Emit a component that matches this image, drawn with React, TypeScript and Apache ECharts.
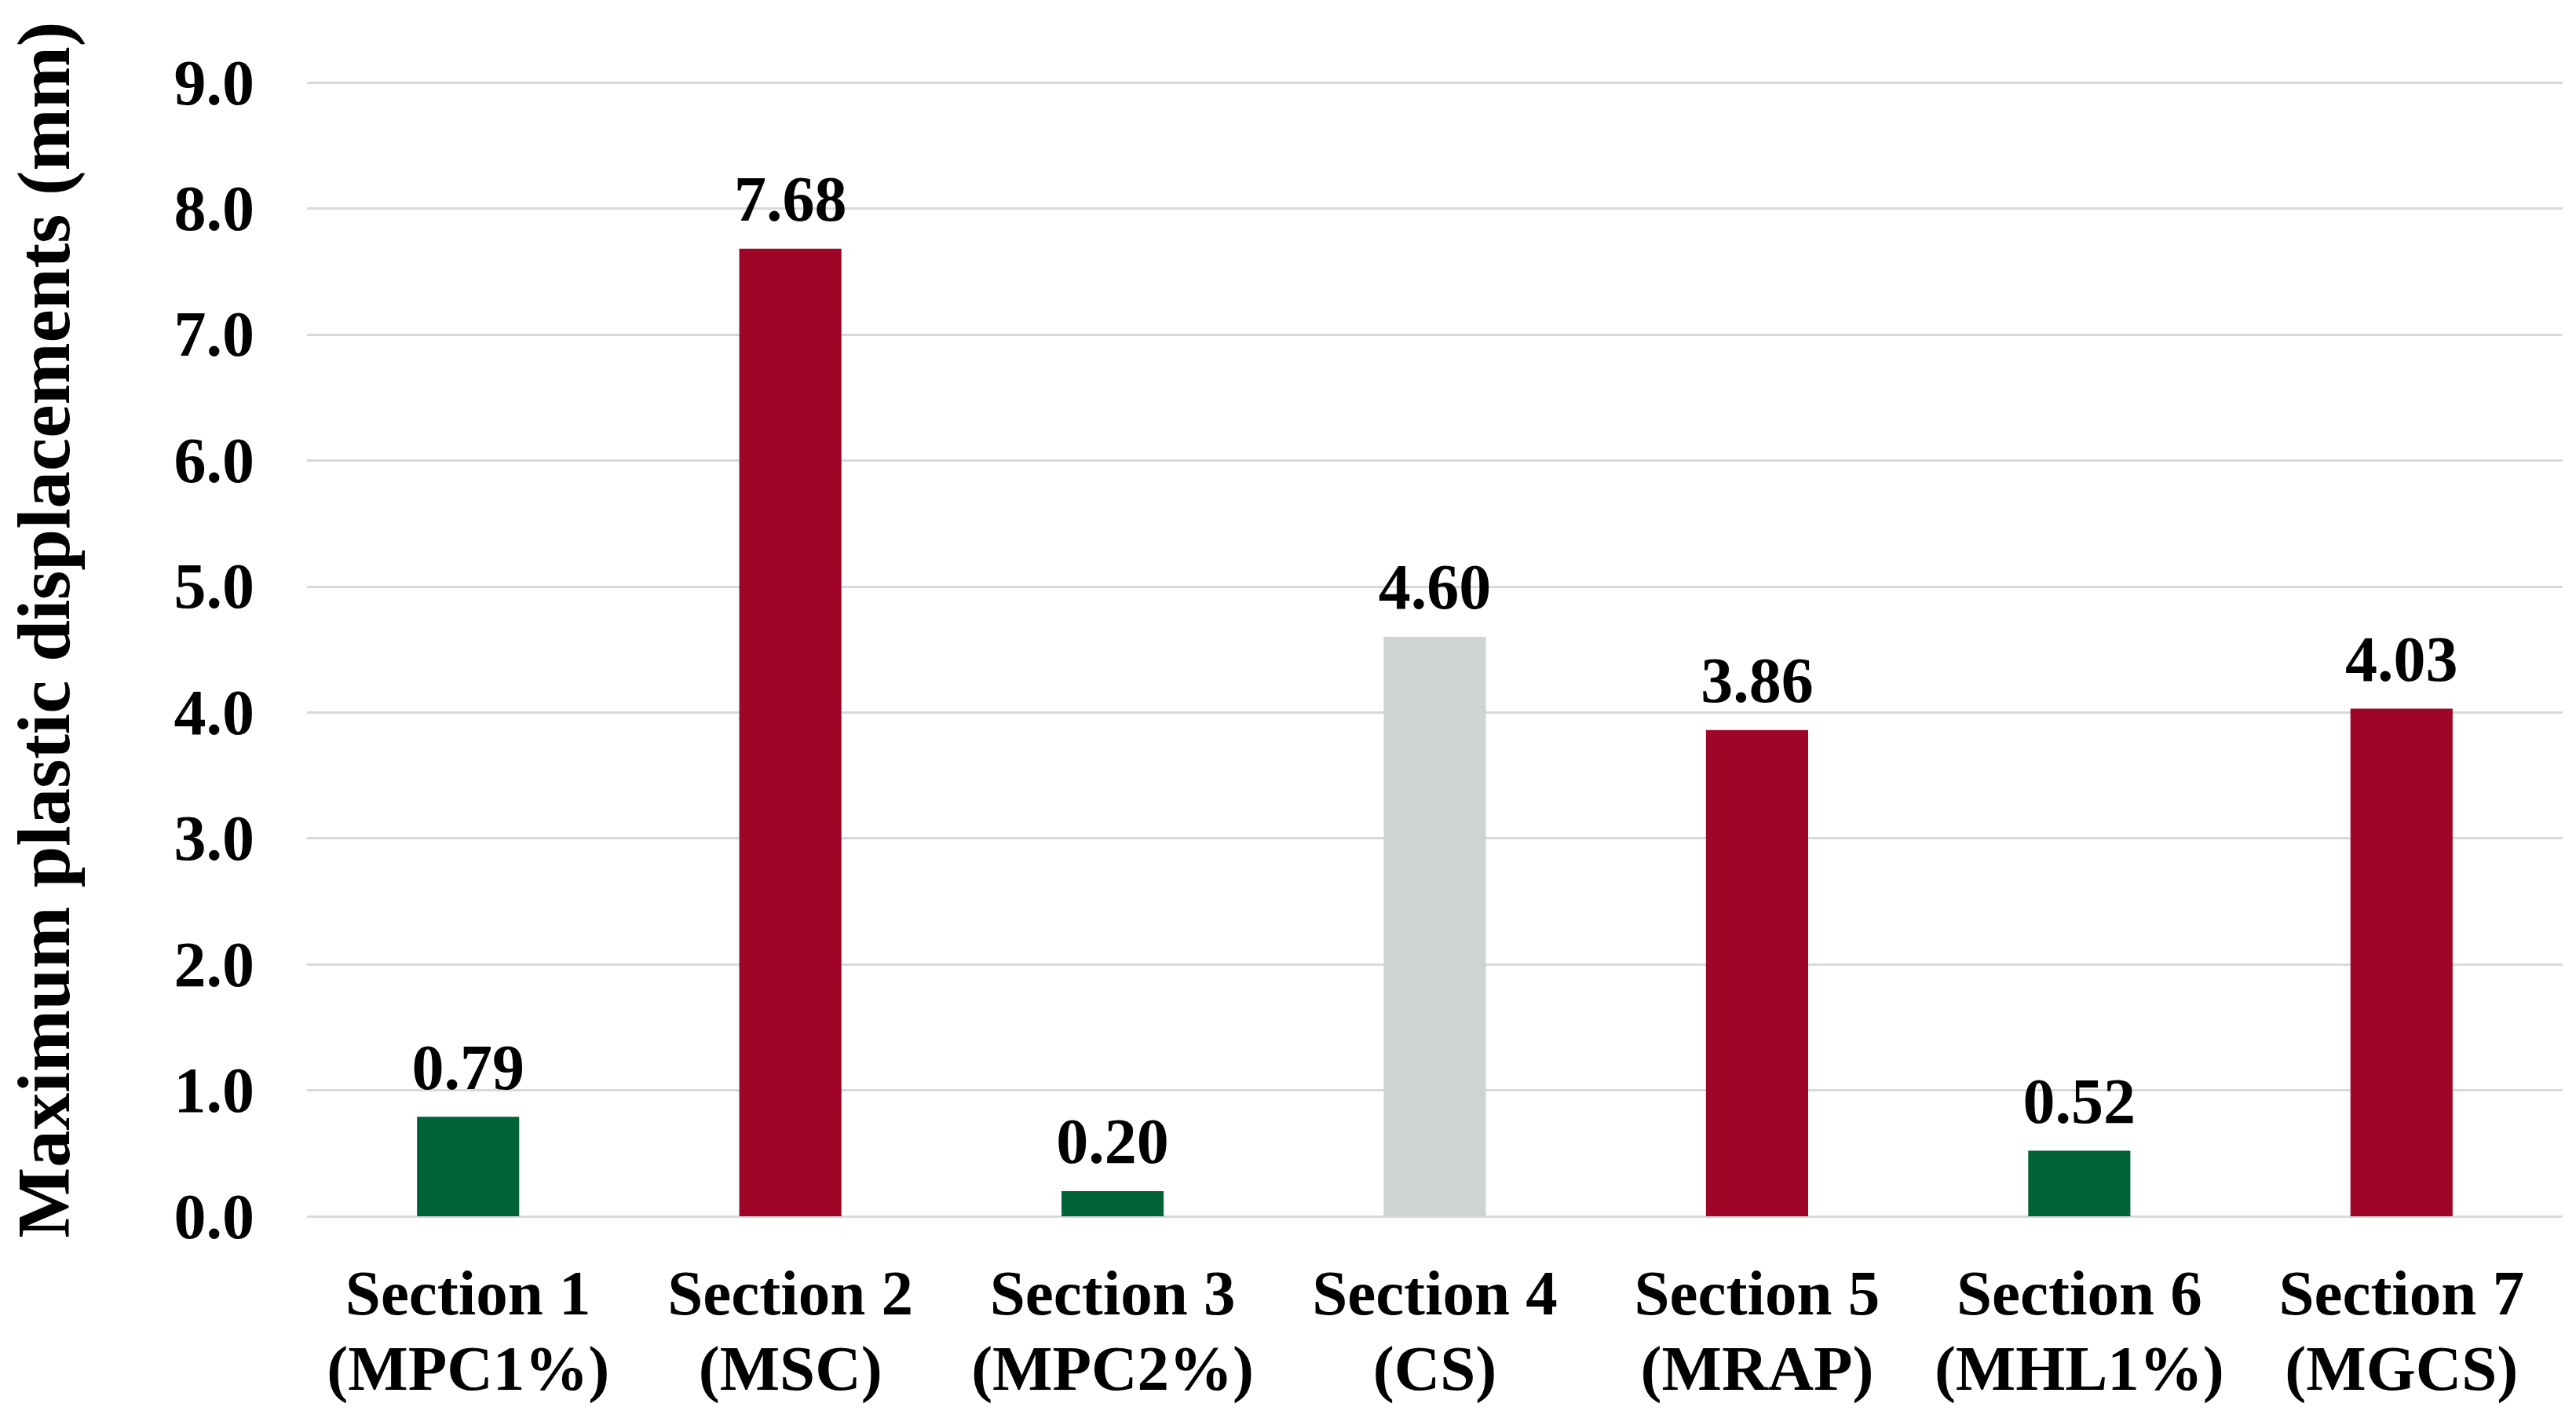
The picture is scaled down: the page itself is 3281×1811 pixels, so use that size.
import React, { useEffect, useRef } from "react";
import * as echarts from "echarts";

const categories = [
  "Section 1\n(MPC1%)",
  "Section 2\n(MSC)",
  "Section 3\n(MPC2%)",
  "Section 4\n(CS)",
  "Section 5\n(MRAP)",
  "Section 6\n(MHL1%)",
  "Section 7\n(MGCS)",
];
const values = [0.79, 7.68, 0.2, 4.6, 3.86, 0.52, 4.03];
const barColors = ["#006338", "#9E0527", "#006338", "#CFD3D3", "#9E0527", "#006338", "#9E0527"];
const yAxisTitle = "Maximum plastic displacements (mm)";

const FONT = '"Liberation Serif", "Times New Roman", serif';

export default function App() {
  const ref = useRef<HTMLDivElement>(null);
  useEffect(() => {
    document.body.style.margin = "0";
    const chart = echarts.init(ref.current!, null, { renderer: "svg" });
    chart.setOption({
      animation: false,
      backgroundColor: "#ffffff",
      grid: { left: 391, right: 17, top: 105, bottom: 262 },
      xAxis: {
        type: "category",
        data: categories,
        axisLine: { show: false },
        axisTick: { show: false },
        axisLabel: {
          margin: 50,
          color: "#000",
          fontFamily: FONT,
          fontWeight: "bold",
          fontSize: 81,
          lineHeight: 96,
          interval: 0,
        },
      },
      yAxis: {
        type: "value",
        min: 0,
        max: 9,
        interval: 1,
        name: yAxisTitle,
        nameLocation: "middle",
        nameGap: 288,
        nameTextStyle: {
          color: "#000",
          fontFamily: FONT,
          fontWeight: "bold",
          fontSize: 95,
          padding: [0, 0, 0, 50],
        },
        axisLine: { show: false },
        axisTick: { show: false },
        splitLine: { lineStyle: { color: "#D9D9D9", width: 3 } },
        axisLabel: {
          margin: 67,
          color: "#000",
          fontFamily: FONT,
          fontWeight: "bold",
          fontSize: 82,
          formatter: (v: number) => v.toFixed(1),
        },
      },
      series: [
        {
          type: "bar",
          barWidth: "31.7%",
          data: values.map((v, i) => ({ value: v, itemStyle: { color: barColors[i] } })),
          label: {
            show: true,
            position: "top",
            distance: 22,
            color: "#000",
            fontFamily: FONT,
            fontWeight: "bold",
            fontSize: 82,
            formatter: (p: any) => p.value.toFixed(2),
          },
        },
      ],
    });
    return () => chart.dispose();
  }, []);
  return <div ref={ref} style={{ width: 3281, height: 1811 }} />;
}
